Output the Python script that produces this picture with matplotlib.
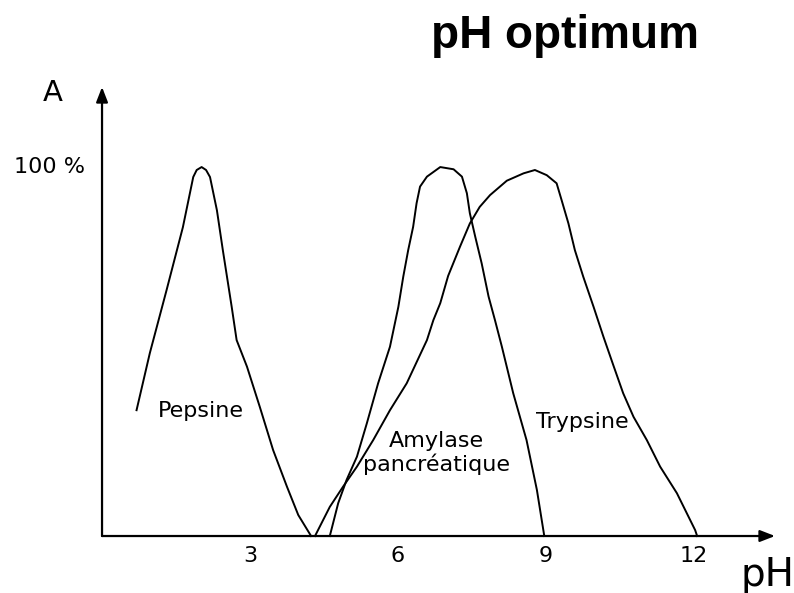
import matplotlib.pyplot as plt

# enzyme activity (% of max) vs pH
pepsine_ph = [0.70, 0.97, 1.31, 1.64, 1.85, 1.92, 2.02, 2.11, 2.19, 2.33, 2.45, 2.63, 2.73, 2.94, 3.20, 3.47, 3.75, 3.98, 4.24]
pepsine_act = [34.1, 49.6, 66.7, 83.7, 97.3, 99.2, 100, 99.2, 97.3, 88.3, 77.5, 62.1, 53.1, 45.9, 35.0, 23.3, 13.4, 5.7, 0]

amylase_ph = [4.62, 4.79, 4.96, 5.17, 5.37, 5.60, 5.84, 6.01, 6.11, 6.21, 6.31, 6.38, 6.45, 6.59, 6.86,
              7.13, 7.30, 7.40, 7.46, 7.57, 7.70, 7.84, 7.97, 8.11, 8.34, 8.61, 8.82, 8.97]
amylase_act = [0, 8.9, 15.2, 21.5, 30.5, 41.4, 51.3, 62.1, 70.3, 77.5, 83.8, 90.2, 94.7, 97.4, 100,
               99.4, 97.4, 92.9, 87.5, 81.1, 73.9, 64.9, 58.5, 51.3, 38.7, 26.0, 12.5, 0]

trypsine_ph = [4.32, 4.62, 4.89, 5.17, 5.50, 5.84, 6.18, 6.59, 6.72, 6.86, 7.02, 7.26, 7.46, 7.66, 7.87,
               8.21, 8.55, 8.78, 9.02, 9.22, 9.32, 9.46, 9.59, 9.76, 9.97, 10.17, 10.37, 10.57, 10.78,
               11.05, 11.32, 11.66, 12.03, 12.07]
trypsine_act = [0, 7.9, 13.4, 18.8, 26.0, 34.1, 41.4, 53.1, 58.5, 63.1, 70.5, 78.4, 84.7, 89.2, 92.4,
                96.3, 98.3, 99.2, 97.8, 95.6, 91.1, 84.7, 77.5, 70.3, 62.1, 54.0, 46.3, 38.7, 32.3,
                26.0, 18.8, 11.6, 1.6, 0]

ph_ticks = [3, 6, 9, 12]

fig = plt.figure(figsize=(7.94, 5.93), dpi=100)
ax = fig.add_axes([0.1285, 0.0961, 0.8476, 0.7572])
ax.set_xlim(0, 13.65)
ax.set_ylim(0, 121.7)

for xs, ys in [(pepsine_ph, pepsine_act), (amylase_ph, amylase_act), (trypsine_ph, trypsine_act)]:
    ax.plot(xs, ys, color="black", lw=1.4, clip_on=False)

# axes drawn as arrows instead of spines
for s in ax.spines.values():
    s.set_visible(False)
arrow = dict(arrowstyle="-|>,head_length=0.9,head_width=0.35", color="black", lw=1.6, shrinkA=0, shrinkB=0)
ax.annotate("", xy=(0, 1), xytext=(0, 0), xycoords="axes fraction", arrowprops=arrow)
ax.annotate("", xy=(1, 0), xytext=(0, 0), xycoords="axes fraction", arrowprops=arrow)

ax.set_xticks(ph_ticks)
ax.set_xticklabels([str(t) for t in ph_ticks], fontsize=16)
ax.tick_params(axis="x", length=0, pad=7)
ax.set_yticks([])

ax.text(-0.35, 100, "100 %", fontsize=16, ha="right", va="center")
ax.text(-1.0, 120.0, "A", fontsize=21, ha="center", va="center", clip_on=False)
ax.text(13.5, -10.5, "pH", fontsize=28, ha="center", va="center", clip_on=False)

ax.text(2.0, 34, "Pepsine", fontsize=16, ha="center", va="center")
ax.text(6.78, 22.5, "Amylase\npancréatique", fontsize=16, ha="center", va="center", linespacing=1.1)
ax.text(9.74, 31, "Trypsine", fontsize=16, ha="center", va="center")

fig.text(0.712, 0.94, "pH optimum", fontsize=33, fontweight="bold", family="Liberation Sans", ha="center", va="center")

fig.savefig("out.png", dpi=100)
